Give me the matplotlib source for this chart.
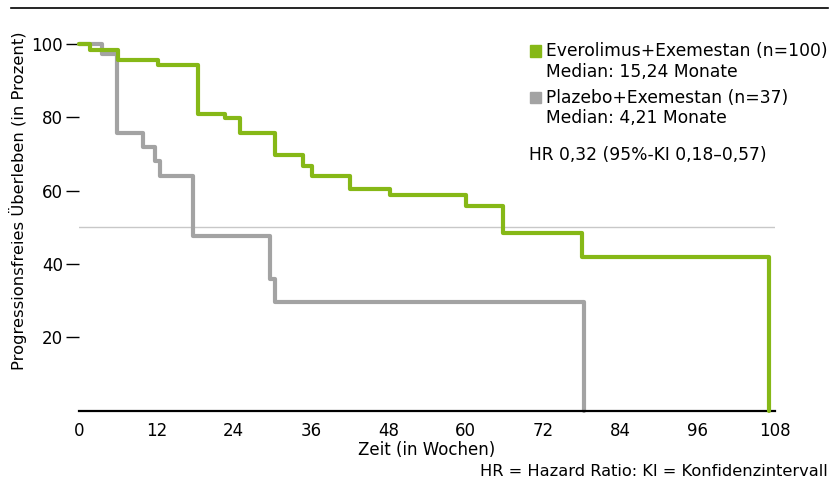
import matplotlib
matplotlib.use("Agg")
import matplotlib.pyplot as plt
from matplotlib.lines import Line2D
from matplotlib.patches import Rectangle

# Kaplan-Meier step data (weeks, percent)
evero_t = [0, 1.7, 6.1, 12.3, 18.5, 22.6, 25.0, 30.4, 34.8, 36.2, 42.1, 48.3, 60.0, 65.8, 78.1, 107.1]
evero_s = [100, 98.4, 95.5, 94.3, 81.0, 79.7, 75.6, 69.8, 66.6, 63.9, 60.3, 58.7, 55.7, 48.3, 42.0, 0]
plaz_t = [0, 3.5, 5.9, 10.0, 11.8, 12.6, 17.7, 29.7, 30.4, 78.3]
plaz_s = [100, 97.3, 75.6, 71.8, 68.2, 64.1, 47.7, 35.9, 29.5, 0]

xticks = [0, 12, 24, 36, 48, 60, 72, 84, 96, 108]
yticks = [20, 40, 60, 80, 100]

green = "#86b817"
grey = "#a3a3a3"

plt.rcParams['font.family'] = ['DejaVu Sans']

W, H = 830, 482
fig = plt.figure(figsize=(W / 100, H / 100), dpi=100)
ax = fig.add_axes([79 / W, 71.5 / H, 696 / W, 381.2 / H])

ax.axhline(50, color="#c8c8c8", lw=1, zorder=1)
ax.step(plaz_t, plaz_s, where="post", color=grey, lw=3.0,
        solid_joinstyle="round", solid_capstyle="round", zorder=2, clip_on=False)
ax.step(evero_t, evero_s, where="post", color=green, lw=3.0,
        solid_joinstyle="round", solid_capstyle="round", zorder=3, clip_on=False)

ax.set_xlim(0, 108)
ax.set_ylim(0, 104)
for s in ["top", "right", "left"]:
    ax.spines[s].set_visible(False)
ax.spines["bottom"].set_linewidth(1.6)
ax.spines["bottom"].set_color("black")

ax.set_xticks(xticks)
ax.set_yticks(yticks)
ax.tick_params(axis="x", length=0, pad=8, labelsize=12)
ax.tick_params(axis="y", length=9.5, width=1, pad=2, labelsize=12, color="black")
ax.set_xlabel("Zeit (in Wochen)", fontsize=12, labelpad=1)

fig.text(18 / W, 1 - 201 / H, "Progressionsfreies Überleben (in Prozent)",
         rotation=90, ha="center", va="center", fontsize=11.8)

# legend
fig.add_artist(Rectangle((530 / W, 1 - 56.5 / H), 11 / W, 11 / H,
                         transform=fig.transFigure, color=green))
fig.add_artist(Rectangle((530 / W, 1 - 103 / H), 11 / W, 11 / H,
                         transform=fig.transFigure, color=grey))
fig.text(546 / W, 1 - 51 / H, "Everolimus+Exemestan (n=100)", fontsize=12.3, va="center")
fig.text(546 / W, 1 - 72 / H, "Median: 15,24 Monate", fontsize=12.3, va="center")
fig.text(546 / W, 1 - 98 / H, "Plazebo+Exemestan (n=37)", fontsize=12.3, va="center")
fig.text(546 / W, 1 - 118 / H, "Median: 4,21 Monate", fontsize=12.3, va="center")
fig.text(529 / W, 1 - 155 / H, "HR 0,32 (95%-KI 0,18\u20130,57)", fontsize=12.3, va="center")

fig.text(828 / W, 1 - 472 / H, "HR = Hazard Ratio: KI = Konfidenzintervall",
         fontsize=11.7, ha="right", va="center")

fig.add_artist(Line2D([11 / W, 828 / W], [1 - 8 / H, 1 - 8 / H],
                      transform=fig.transFigure, color="black", lw=1.2))

fig.savefig("out.png", dpi=100)
